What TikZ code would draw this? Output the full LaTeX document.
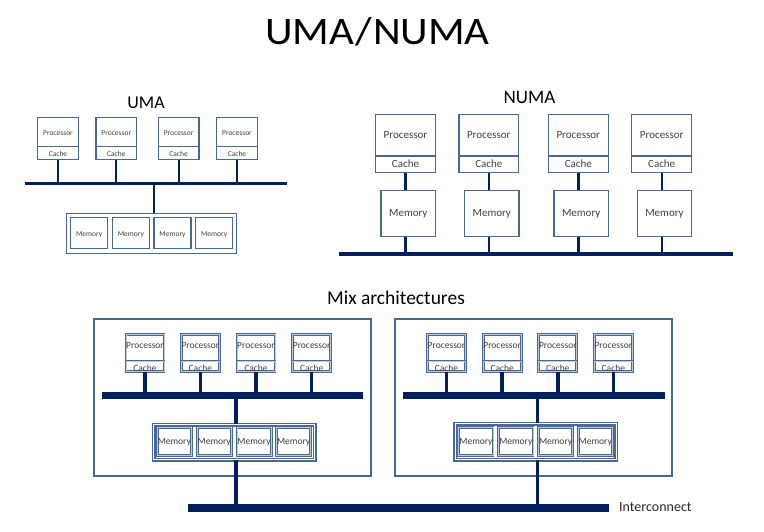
\documentclass[tikz,border=0pt]{standalone}
\usepackage{fontspec}
\setmainfont{Carlito}
\definecolor{busblue}{RGB}{0,32,96}
\definecolor{frameblue}{RGB}{72,104,150}
\definecolor{labelgray}{RGB}{64,64,64}
\begin{document}
\begin{tikzpicture}[x=1pt,y=-1pt,
  thinbox/.style={rectangle, draw=frameblue, line width=1.3pt, fill=white, inner sep=0pt, text=labelgray, text height=.64em, text depth=0pt},
  thickbox/.style={rectangle, draw=frameblue, line width=1pt, double=frameblue!35!white, double distance=0.8pt, fill=white, inner sep=0pt, text=labelgray, text height=.64em, text depth=0pt},
  dframe/.style={rectangle, draw=frameblue, line width=1.5pt, double=white, double distance=0.9pt, inner sep=0pt},
  bigframe/.style={rectangle, draw=frameblue, line width=2pt, inner sep=0pt},
  busline/.style={draw=busblue, line width=#1},
  conn/.style={draw=busblue, line width=#1},
  heading/.style={inner sep=0pt, anchor=base, text=black},
  small/.style={font=\fontsize{7.5}{8}\selectfont},
  medium/.style={font=\fontsize{11}{12}\selectfont},
  mixfont/.style={font=\fontsize{9.5}{10}\selectfont},
]
\useasboundingbox (0,0) rectangle (764,532);

% Titles
\node[heading, font=\fontsize{39}{42}\selectfont] (title) at (377.5,44.3) {\scalebox{1.1}[1]{UMA\kern1pt/\kern1pt NUMA}};
\node[heading, font=\fontsize{18}{20}\selectfont] (umalbl) at (146,108.3) {UMA};
\node[heading, font=\fontsize{19}{21}\selectfont] (numalbl) at (529.4,104) {NUMA};
\node[heading, font=\fontsize{19.5}{21}\selectfont] (mixlbl) at (396,304) {Mix architectures};

% ---------------- UMA ----------------
\coordinate (ubL) at (25,183.3);
\coordinate (ubR) at (286.7,183.3);
\coordinate (umc) at (154,183.3);
\draw[busline=3.5pt] (ubL) -- (ubR);
\foreach \i/\x in {1/58,2/116.3,3/178.6,4/237}{
  \node[thinbox, small, minimum width=40.8pt, minimum height=29.4pt] (up\i) at (\x,132) {Processor};
  \node[thinbox, small, minimum width=40.8pt, minimum height=12.6pt] (uc\i) at (\x,153) {Cache};
  \draw[conn=2.2pt] (uc\i.south) -- (uc\i.south |- ubL);
}
\node[thinbox, minimum width=170pt, minimum height=40pt] (uframe) at (151.65,233.35) {};
\draw[conn=2.2pt] (umc) -- (umc |- uframe.north);
\foreach \i/\x in {1/89.15,2/130.85,3/172.5,4/214.15}{
  \node[thinbox, small, minimum width=37pt, minimum height=31.4pt] (um\i) at (\x,233) {Memory};
}

% ---------------- NUMA ----------------
\coordinate (nbL) at (339.3,254);
\coordinate (nbR) at (733.3,254);
\draw[busline=4.5pt] (nbL) -- (nbR);
\foreach \i/\x/\mx in {1/405.5/408.3,2/488.8/491.8,3/578.3/581.2,4/661.7/664.5}{
  \node[thinbox, medium, minimum width=59.8pt, minimum height=41.7pt] (np\i) at (\x,135.15) {Processor};
  \node[thinbox, medium, minimum width=59.8pt, minimum height=16.7pt] (nc\i) at (\x,164.35) {Cache};
  \node[thinbox, medium, minimum width=54.5pt, minimum height=46.3pt] (nm\i) at (\mx,213.65) {Memory};
  \draw[conn=2.4pt] (nc\i.south) -- (nc\i.south |- nm\i.north);
  \draw[conn=2.4pt] (nc\i.south |- nm\i.south) -- (nc\i.south |- nbL);
}

% ---------------- Mix ----------------
\node[bigframe, minimum width=277.6pt, minimum height=157pt] (lbox) at (232.5,397.8) {};
\node[bigframe, minimum width=277.3pt, minimum height=156.4pt] (rbox) at (533.65,397.5) {};

\coordinate (icL) at (188.3,508.3);
\coordinate (icR) at (609.3,508.3);
\coordinate (lbL) at (101.7,395);
\coordinate (lbR) at (363.3,395);
\coordinate (rbL) at (402.7,395.7);
\coordinate (rbR) at (665,395.7);
\coordinate (lmc) at (236,395);
\coordinate (rmc) at (537.7,395.7);

\draw[busline=7pt] (lbL) -- (lbR);
\draw[busline=7pt] (rbL) -- (rbR);

\foreach \s/\x in {l1/145,l2/200.35,l3/256,l4/311.7,r1/446.5,r2/502.2,r3/557.8,r4/613.35}{
  \node[thickbox, mixfont, minimum width=38pt, minimum height=26.4pt, text depth=5.6pt] (mp\s) at (\x,347.8) {Processor};
  \node[thickbox, mixfont, minimum width=38pt, minimum height=10.4pt, text height=6.08pt+4.2pt] (mc\s) at (\x,366.2) {Cache};
}
\foreach \s in {l1,l2,l3,l4}{
  \draw[conn=3.5pt] (mc\s.south) -- (mc\s.south |- lbL);
}
\foreach \s in {r1,r2,r3,r4}{
  \draw[conn=3.5pt] (mc\s.south) -- (mc\s.south |- rbL);
}

\node[dframe, minimum width=161pt, minimum height=35pt] (lframe) at (234.2,442.2) {};
\node[dframe, minimum width=161pt, minimum height=36pt] (rframe) at (535.8,441.7) {};
\foreach \s/\x/\y in {l1/174.35/441.2,l2/214.2/441.2,l3/254/441.2,l4/293.65/441.2,r1/475.95/441.7,r2/515.8/441.7,r3/555.6/441.7,r4/595.25/441.7}{
  \node[thickbox, mixfont, minimum width=34.2pt, minimum height=28.2pt] (mm\s) at (\x,\y) {Memory};
}

\draw[conn=3.5pt] (lmc) -- (lmc |- lframe.north);
\draw[conn=3.5pt] (rmc) -- (rmc |- rframe.north);
\draw[conn=3.5pt] (lmc |- lframe.south) -- (lmc |- icL);
\draw[conn=3.5pt] (rmc |- rframe.south) -- (rmc |- icL);

\draw[busline=8pt] (icL) -- (icR);
\node[inner sep=0pt, anchor=west, text height=.64em, text depth=0pt, font=\fontsize{14}{16}\selectfont, text=labelgray!60!black] (iclbl) at ([xshift=9.7pt]icR) {Interconnect};
\end{tikzpicture}
\end{document}
